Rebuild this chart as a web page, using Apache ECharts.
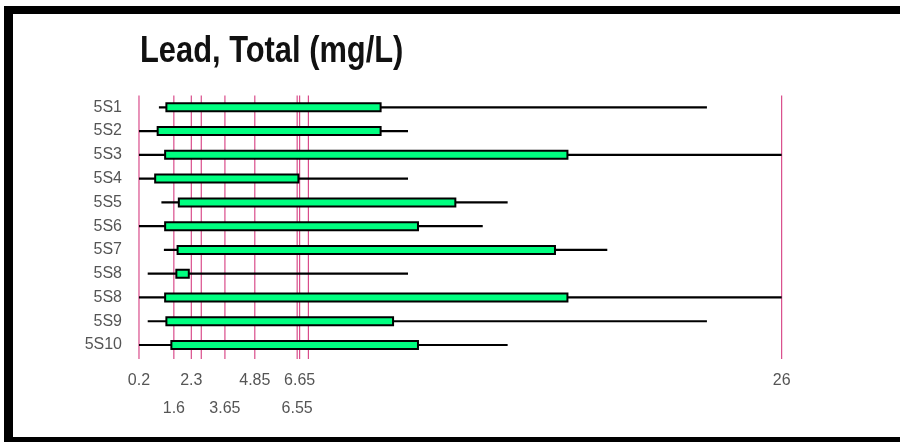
<!DOCTYPE html>
<html>
<head>
<meta charset="utf-8">
<script src="https://cdn.jsdelivr.net/npm/echarts@6/dist/echarts.min.js"></script>
<style>
  html, body { margin: 0; padding: 0; background: #ffffff; }
  #chart { width: 900px; height: 442px; }
</style>
</head>
<body>
<div id="chart"></div>
<script>
// ---- data ----
const categories = ['5S1', '5S2', '5S3', '5S4', '5S5', '5S6', '5S7', '5S8', '5S8', '5S9', '5S10'];
const minVals = [1.0, 0.2, 0.2, 0.2, 1.1, 0.2, 1.2, 0.55, 0.2, 0.55, 0.2];
const q1Vals  = [1.3, 0.95, 1.25, 0.85, 1.8, 1.25, 1.75, 1.7, 1.25, 1.3, 1.5];
const q3Vals  = [9.9, 9.9, 17.4, 6.6, 12.9, 11.4, 16.9, 2.2, 17.4, 10.4, 11.4];
const maxVals = [23, 11, 26, 11, 15, 14, 19, 11, 26, 23, 15];
const refLines = [0.2, 1.6, 2.3, 2.7, 3.65, 4.85, 6.55, 6.65, 7.0, 26];
const tickRow1 = [0.2, 2.3, 4.85, 6.65, 26];
const tickRow2 = [1.6, 3.65, 6.55];
const titleText = 'Lead, Total (mg/L)';

const FONT = "'Liberation Sans Narrow', 'Arial Narrow', 'Liberation Sans', Arial, sans-serif";
const boxData = categories.map((c, i) => [i, minVals[i], q1Vals[i], q3Vals[i], maxVals[i]]);
const refData = refLines.map(v => [v]);

const chart = echarts.init(document.getElementById('chart'), null, { renderer: 'canvas' });

const xAxisBase = {
  type: 'value', min: 0, max: 30, position: 'bottom',
  axisLine: { show: false }, axisTick: { show: false }, splitLine: { show: false },
};

chart.setOption({
  animation: false,
  backgroundColor: '#ffffff',
  grid: { left: 134, width: 747.3, top: 95.4, height: 261.5, containLabel: false },
  xAxis: [
    Object.assign({}, xAxisBase, {
      axisLabel: { customValues: tickRow1, margin: 16, fontFamily: FONT, fontSize: 16, color: '#555555',
        formatter: v => String(v) }
    }),
    Object.assign({}, xAxisBase, {
      offset: 28,
      axisLabel: { customValues: tickRow2, margin: 16, fontFamily: FONT, fontSize: 16, color: '#555555',
        formatter: v => String(v) }
    })
  ],
  yAxis: {
    type: 'category', data: categories, inverse: true,
    axisLine: { show: false }, axisTick: { show: false }, splitLine: { show: false },
    axisLabel: { margin: 12, fontFamily: FONT, fontSize: 16, color: '#555555' }
  },
  graphic: [
    { type: 'text', x: 140, y: 34, scaleX: 0.857, z: 50,
      style: { text: titleText, fontFamily: FONT, fontSize: 36, fontWeight: 'bold', fill: '#111111', verticalAlign: 'top' } },
    { type: 'rect', shape: { x: 4, y: 6, width: 896, height: 8 }, style: { fill: '#000' }, z: 100 },
    { type: 'rect', shape: { x: 4, y: 6, width: 9, height: 436 }, style: { fill: '#000' }, z: 100 },
    { type: 'rect', shape: { x: 4, y: 437, width: 896, height: 5 }, style: { fill: '#000' }, z: 100 }
  ],
  series: [
    {
      type: 'custom', z: 1, xAxisIndex: 0, yAxisIndex: 0,
      encode: { x: 0 },
      data: refData,
      silent: true,
      renderItem: function (params, api) {
        const cs = params.coordSys;
        const x = api.coord([api.value(0), 0])[0];
        return { type: 'line', shape: { x1: x, y1: cs.y, x2: x, y2: cs.y + cs.height + 2 },
          style: { stroke: '#d63c80', lineWidth: 1.1 } };
      }
    },
    {
      type: 'custom', z: 5, xAxisIndex: 0, yAxisIndex: 0,
      encode: { x: [1, 2, 3, 4], y: 0 },
      data: boxData,
      renderItem: function (params, api) {
        const idx = api.value(0);
        const pMin = api.coord([api.value(1), idx]);
        const pQ1 = api.coord([api.value(2), idx]);
        const pQ3 = api.coord([api.value(3), idx]);
        const pMax = api.coord([api.value(4), idx]);
        const h = 8;
        return {
          type: 'group',
          children: [
            { type: 'line', shape: { x1: pMin[0], y1: pMin[1], x2: pMax[0], y2: pMax[1] },
              style: { stroke: '#000', lineWidth: 2.2 } },
            { type: 'rect', shape: { x: pQ1[0], y: pQ1[1] - h / 2, width: pQ3[0] - pQ1[0], height: h },
              style: { fill: '#00ff80', stroke: '#000', lineWidth: 2 } }
          ]
        };
      }
    }
  ]
});
</script>
</body>
</html>
